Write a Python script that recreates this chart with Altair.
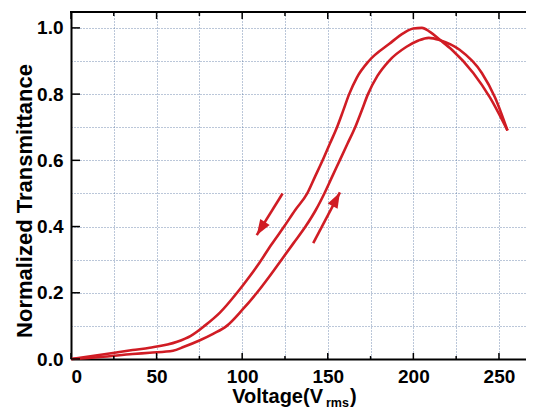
import altair as alt
import pandas as pd

# ---- data ----
inc_v = [0, 17, 36, 46, 59.6, 66, 75, 83, 91, 100, 108.6, 116, 123, 130, 137, 143, 148, 152.5, 157, 161.5, 166, 169.8, 173.5, 179, 185.7, 196, 203, 209, 215.5, 227, 240, 247.7, 255]
inc_t = [0, 0.006, 0.015, 0.019, 0.025, 0.037, 0.056, 0.076, 0.1, 0.148, 0.2, 0.25, 0.3, 0.35, 0.4, 0.45, 0.5, 0.55, 0.6, 0.65, 0.7, 0.75, 0.8, 0.855, 0.9, 0.943, 0.962, 0.97, 0.963, 0.934, 0.864, 0.79, 0.69]

dec_v = [0, 24.5, 36, 46, 62, 70, 78, 87, 97, 104, 110, 117, 124.5, 131, 138, 142.5, 147, 151.2, 155.4, 159, 162.5, 167, 174, 186, 194.5, 200, 205, 209.7, 215.5, 222.5, 235, 244.7, 255]
dec_t = [0, 0.018, 0.027, 0.034, 0.052, 0.07, 0.1, 0.14, 0.2, 0.247, 0.29, 0.345, 0.4, 0.45, 0.5, 0.55, 0.6, 0.65, 0.7, 0.75, 0.8, 0.85, 0.9, 0.952, 0.985, 0.998, 1.0, 0.988, 0.964, 0.934, 0.864, 0.79, 0.69]

arrow_tail_v = [123.6, 141.5]
arrow_tail_t = [0.50, 0.35]
arrow_tip_v = [108.5, 157.1]
arrow_tip_t = [0.374, 0.503]
arrow_angle = [212, 28]

x_grid_values = [0, 25, 50, 75, 100, 125, 150, 175, 200, 225, 250]
x_major = [0, 50, 100, 150, 200, 250]
x_minor = [25, 75, 125, 175, 225]
y_grid_values = [0, 0.1, 0.2, 0.3, 0.4, 0.5, 0.6, 0.7, 0.8, 0.9, 1.0]
y_major = [0, 0.2, 0.4, 0.6, 0.8, 1.0]

# ---- style ----
W, H = 455, 347
XMAX, YMAX = 265.8, 1.048
RED = "#d01c24"
FONT = "Liberation Sans"
GRID = "#4a6a9a"

xs = alt.Scale(domain=[0, XMAX], nice=False, zero=False)
ys = alt.Scale(domain=[0, YMAX], nice=False, zero=False)

xaxis = alt.Axis(
    values=x_grid_values, title=None, ticks=False,
    labelExpr="datum.value % 50 == 0 ? datum.label : ''",
    labelFont=FONT, labelFontWeight="bold", labelFontSize=19, labelColor="black",
    labelPadding=8, domainColor="black", domainWidth=2,
    grid=True, gridColor=GRID, gridDash=[1, 2], gridWidth=1, gridOpacity=0.75)
yaxis = alt.Axis(
    values=y_grid_values, title=None, ticks=False, format=".1f",
    labelExpr="round(datum.value * 10) % 2 == 0 ? datum.label : ''",
    labelFont=FONT, labelFontWeight="bold", labelFontSize=19, labelColor="black",
    labelPadding=8, domainColor="black", domainWidth=2,
    grid=True, gridColor=GRID, gridDash=[1, 2], gridWidth=1, gridOpacity=0.75)


def X(f):
    return alt.X(f, scale=xs, axis=xaxis, title=None)


def Y(f):
    return alt.Y(f, scale=ys, axis=yaxis, title=None)


df = pd.concat([
    pd.DataFrame({"V": inc_v, "T": inc_t, "s": "inc"}),
    pd.DataFrame({"V": dec_v, "T": dec_t, "s": "dec"}),
])

lines = alt.Chart(df).mark_line(color=RED, strokeWidth=2.6, interpolate="monotone").encode(
    x=X("V:Q"), y=Y("T:Q"), detail="s:N")

# inward ticks
bx_major = alt.Chart(pd.DataFrame({"V": x_major})).mark_rule(color="black", strokeWidth=1.5).encode(
    x=X("V:Q"), y=alt.value(H), y2=alt.value(H - 6))
bx_minor = alt.Chart(pd.DataFrame({"V": x_minor})).mark_rule(color="black", strokeWidth=1.5).encode(
    x=X("V:Q"), y=alt.value(H), y2=alt.value(H - 3))
tx_major = alt.Chart(pd.DataFrame({"V": x_major})).mark_rule(color="black", strokeWidth=1.5).encode(
    x=X("V:Q"), y=alt.value(0), y2=alt.value(7))
tx_minor = alt.Chart(pd.DataFrame({"V": x_minor})).mark_rule(color="black", strokeWidth=1.5).encode(
    x=X("V:Q"), y=alt.value(0), y2=alt.value(4))
ly_major = alt.Chart(pd.DataFrame({"T": y_major})).mark_rule(color="black", strokeWidth=1.5).encode(
    y=Y("T:Q"), x=alt.value(0), x2=alt.value(9))

top_border = alt.Chart(pd.DataFrame({"a": [0]})).mark_rule(color="black", strokeWidth=2).encode(
    x=alt.value(-1), x2=alt.value(W), y=alt.value(0))

arrows_df = pd.DataFrame({"V": arrow_tail_v, "T": arrow_tail_t, "V1": arrow_tip_v,
                          "T1": arrow_tip_t})
shafts = alt.Chart(arrows_df).mark_rule(color=RED, strokeWidth=2.6).encode(
    x=X("V:Q"), y=Y("T:Q"), x2="V1:Q", y2="T1:Q")
heads_df = pd.DataFrame({"V": arrow_tip_v, "T": arrow_tip_t, "ang": arrow_angle})
heads = alt.Chart(heads_df).mark_point(
    shape="M0,0L0.72,2L-0.72,2Z", filled=True, color=RED, opacity=1, size=240).encode(
    x=X("V:Q"), y=Y("T:Q"), angle=alt.Angle("ang:Q", scale=None))

# titles
ytitle = alt.Chart(pd.DataFrame({"t": ["Normalized Transmittance"]})).mark_text(
    font=FONT, fontWeight="bold", fontSize=22, angle=270, align="center",
    baseline="alphabetic", color="black").encode(
    text="t:N", x=alt.value(-39), y=alt.value(189))
xt1 = alt.Chart(pd.DataFrame({"t": ["Voltage(V"]})).mark_text(
    font=FONT, fontWeight="bold", fontSize=20, align="right", baseline="alphabetic",
    color="black").encode(text="t:N", x=alt.value(252), y=alt.value(391))
xt2 = alt.Chart(pd.DataFrame({"t": ["rms"]})).mark_text(
    font=FONT, fontWeight="bold", fontSize=12.5, align="left", baseline="alphabetic",
    color="black").encode(text="t:N", x=alt.value(255), y=alt.value(395))
xt3 = alt.Chart(pd.DataFrame({"t": [")"]})).mark_text(
    font=FONT, fontWeight="bold", fontSize=20, align="left", baseline="alphabetic",
    color="black").encode(text="t:N", x=alt.value(279), y=alt.value(391))

chart = alt.layer(
    lines, bx_major, bx_minor, tx_major, tx_minor, ly_major, top_border,
    shafts, heads, ytitle, xt1, xt2, xt3
).properties(
    width=W, height=H, background="white",
    autosize=alt.AutoSizeParams(type="none"),
    padding={"left": 63, "top": 4, "right": 0, "bottom": 53},
).configure_view(stroke=None)

chart.save("out.html", embed_options={"renderer": "svg", "actions": False})
